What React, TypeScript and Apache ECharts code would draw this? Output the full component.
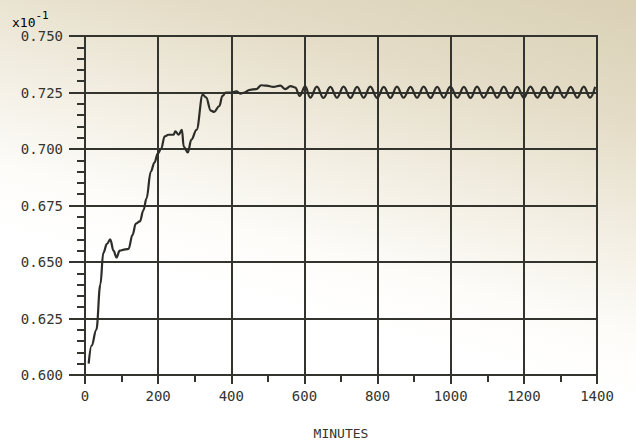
import React, { useEffect, useRef } from "react";
import * as echarts from "echarts";

const minutes = [
  10, 18, 31, 42, 50, 60, 69, 78, 86, 95, 110, 119, 130, 139, 150, 160, 168, 180, 190, 199,
  208, 218, 228, 242, 247, 256, 265, 270, 281, 291, 305, 322, 331, 344, 353, 367, 376, 385,
  399, 414, 425, 433, 451, 468, 482, 496, 515, 534, 548, 562, 575, 587, 602,
  616, 634, 652, 671, 689, 707, 726, 744, 762, 780, 799, 817, 835, 853, 871, 890, 908, 926,
  945, 963, 981, 999, 1018, 1036, 1054, 1072, 1090, 1109, 1127, 1145, 1164, 1182, 1200, 1218,
  1237, 1255, 1273, 1291, 1310, 1328, 1346, 1364, 1381, 1395,
];

const values = [
  0.605, 0.613, 0.62, 0.64, 0.654, 0.658, 0.66, 0.655, 0.652, 0.655, 0.6556, 0.6558, 0.662,
  0.667, 0.668, 0.673, 0.678, 0.69, 0.694, 0.698, 0.7, 0.7056, 0.7063, 0.7063, 0.7078, 0.7063,
  0.7085, 0.701, 0.6985, 0.7042, 0.7085, 0.7241, 0.7228, 0.717, 0.7164, 0.719, 0.7235, 0.725,
  0.725, 0.7255, 0.7245, 0.7248, 0.7262, 0.7265, 0.7282, 0.728, 0.7275, 0.728, 0.7265, 0.7278,
  0.7272, 0.7235, 0.7277,
  0.7227, 0.7276, 0.7226, 0.7275, 0.7227, 0.7276, 0.7226, 0.7275, 0.7227, 0.7276, 0.7226, 0.7275,
  0.7226, 0.7276, 0.7227, 0.7275, 0.7227, 0.7276, 0.7226, 0.7275, 0.7227, 0.7276, 0.7227, 0.7275,
  0.7226, 0.7276, 0.7227, 0.7275, 0.7227, 0.7276, 0.7226, 0.7275, 0.7227, 0.7276, 0.7227, 0.7275,
  0.7226, 0.7276, 0.7227, 0.7275, 0.7227, 0.7276, 0.7227, 0.7275,
];

const xMin = 0;
const xMax = 1400;
const xStep = 200;
const yMin = 0.6;
const yMax = 0.75;
const yStep = 0.025;

const ink = "#34342f";
const font = "DejaVu Sans Mono";

export default function App() {
  const ref = useRef<HTMLDivElement>(null);

  useEffect(() => {
    const chart = echarts.init(ref.current!, null, { renderer: "svg" });
    const data = minutes.map((m, i) => [m, values[i]]);
    chart.setOption({
      animation: false,
      backgroundColor: "transparent",
      grid: {
        left: 85,
        right: 39,
        top: 36,
        bottom: 70,
        show: true,
        borderColor: ink,
        borderWidth: 2,
        backgroundColor: "transparent",
      },
      xAxis: {
        type: "value",
        min: xMin,
        max: xMax,
        interval: xStep,
        name: "MINUTES",
        nameLocation: "middle",
        nameGap: 52,
        nameTextStyle: { fontFamily: font, fontSize: 13, color: ink },
        axisLine: { show: true, lineStyle: { color: ink, width: 2 } },
        axisTick: { show: true, length: 9, lineStyle: { color: ink, width: 2 } },
        minorTick: { show: true, splitNumber: 2, length: 7, lineStyle: { color: ink, width: 2 } },
        splitLine: { show: true, lineStyle: { color: ink, width: 2 } },
        axisLabel: {
          margin: 14,
          fontFamily: font,
          fontSize: 14,
          color: ink,
          formatter: (v: number) => String(Math.round(v)),
        },
      },
      yAxis: {
        type: "value",
        min: yMin,
        max: yMax,
        interval: yStep,
        axisLine: { show: true, lineStyle: { color: ink, width: 2 } },
        axisTick: { show: true, length: 16, lineStyle: { color: ink, width: 2 } },
        minorTick: { show: true, splitNumber: 5, length: 8, lineStyle: { color: ink, width: 2 } },
        splitLine: { show: true, lineStyle: { color: ink, width: 2 } },
        axisLabel: {
          margin: 22,
          fontFamily: font,
          fontSize: 14,
          color: ink,
          formatter: (v: number) => v.toFixed(3),
        },
      },
      graphic: [
        {
          type: "text",
          left: 12,
          top: 10,
          style: {
            text: "{a|x10}{b|-1}",
            rich: {
              a: { fontFamily: font, fontSize: 13, color: ink, verticalAlign: "bottom", padding: [6, 0, 0, 0] },
              b: { fontFamily: font, fontSize: 11, color: ink, verticalAlign: "top" },
            },
          },
        },
      ],
      series: [
        {
          type: "line",
          data,
          showSymbol: false,
          smooth: 0.4,
          smoothMonotone: "x",
          lineStyle: { color: "#2c2c28", width: 2.2 },
        },
      ],
    });
    return () => chart.dispose();
  }, []);

  return (
    <div
      style={{
        position: "absolute",
        left: 0,
        top: 0,
        width: 636,
        height: 445,
        background:
          "linear-gradient(195deg, #d9d0b6 0%, #e4dcc6 20%, #f3efe4 40%, #fdfcf9 55%, #ffffff 65%)",
      }}
    >
      <div ref={ref} style={{ width: 636, height: 445 }} />
    </div>
  );
}
